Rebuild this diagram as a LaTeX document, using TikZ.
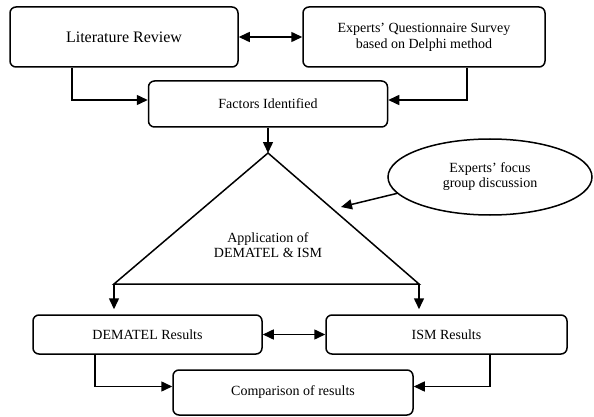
\documentclass[tikz,border=0pt]{standalone}
\usepackage{fontspec}
\setmainfont{Liberation Serif}
\usetikzlibrary{arrows.meta,shapes.geometric,calc}
\begin{document}
\begin{tikzpicture}[x=1pt,y=-1pt,
  line width=1.5pt,
  box/.style={draw,rounded corners=6pt,inner sep=0pt,align=center,font=\fontsize{14}{16}\selectfont},
  arr/.style={-{Triangle[length=11pt,width=10pt]}},
  darr/.style={{Triangle[length=11pt,width=10pt]}-{Triangle[length=11pt,width=10pt]}}]
\useasboundingbox (0,0) rectangle (594,417);
\node[box,minimum width=228pt,minimum height=60pt,font=\fontsize{16}{18}\selectfont] (lit) at (124,37) {Literature Review};
\node[box,minimum width=242pt,minimum height=60pt] (exp) at (424,37) {Experts' Questionnaire Survey\\based on Delphi method};
\node[box,minimum width=239pt,minimum height=46pt] (fac) at (268,104) {Factors Identified};
\node[draw,ellipse,minimum width=204pt,minimum height=76pt,inner sep=0pt,align=center,font=\fontsize{14}{15}\selectfont] (ell) at (490,177) {Experts' focus\\group discussion};
\coordinate (apex) at (268,153);
\coordinate (L) at (114,284);
\coordinate (R) at (419,284);
\draw[line join=miter] (apex) -- (L) -- (R) -- cycle;
\node[align=center,font=\fontsize{14}{15}\selectfont] (app) at (268,245) {Application of\\DEMATEL \& ISM};
\coordinate (hit) at (341,207);
\node[box,minimum width=229pt,minimum height=39pt] (dem) at (147.5,334.5) {DEMATEL Results};
\node[box,minimum width=241pt,minimum height=39pt] (ism) at (446.5,334.5) {ISM Results};
\node[box,minimum width=240pt,minimum height=45pt] (cmp) at (293,392.5) {Comparison of results};
% connectors
\draw[darr] (lit.east) -- (exp.west);
\draw[arr] ([xshift=-52pt]lit.south) |- ([yshift=4pt]fac.west);
\draw[arr] ([xshift=43pt]exp.south) |- ([yshift=4pt]fac.east);
\draw[arr] (fac.south) -- (apex);
\draw[arr] (ell.190) -- (hit);
\draw[arr,shorten >=5pt] (L) -- (L |- dem.north);
\draw[arr,shorten >=5pt] (R) -- (R |- ism.north);
\draw[darr] (dem.east) -- (ism.west);
\draw[arr] ([xshift=-52.5pt]dem.south) |- ([yshift=6pt]cmp.west);
\draw[arr] ([xshift=43.5pt]ism.south) |- ([yshift=6pt]cmp.east);
\end{tikzpicture}
\end{document}
